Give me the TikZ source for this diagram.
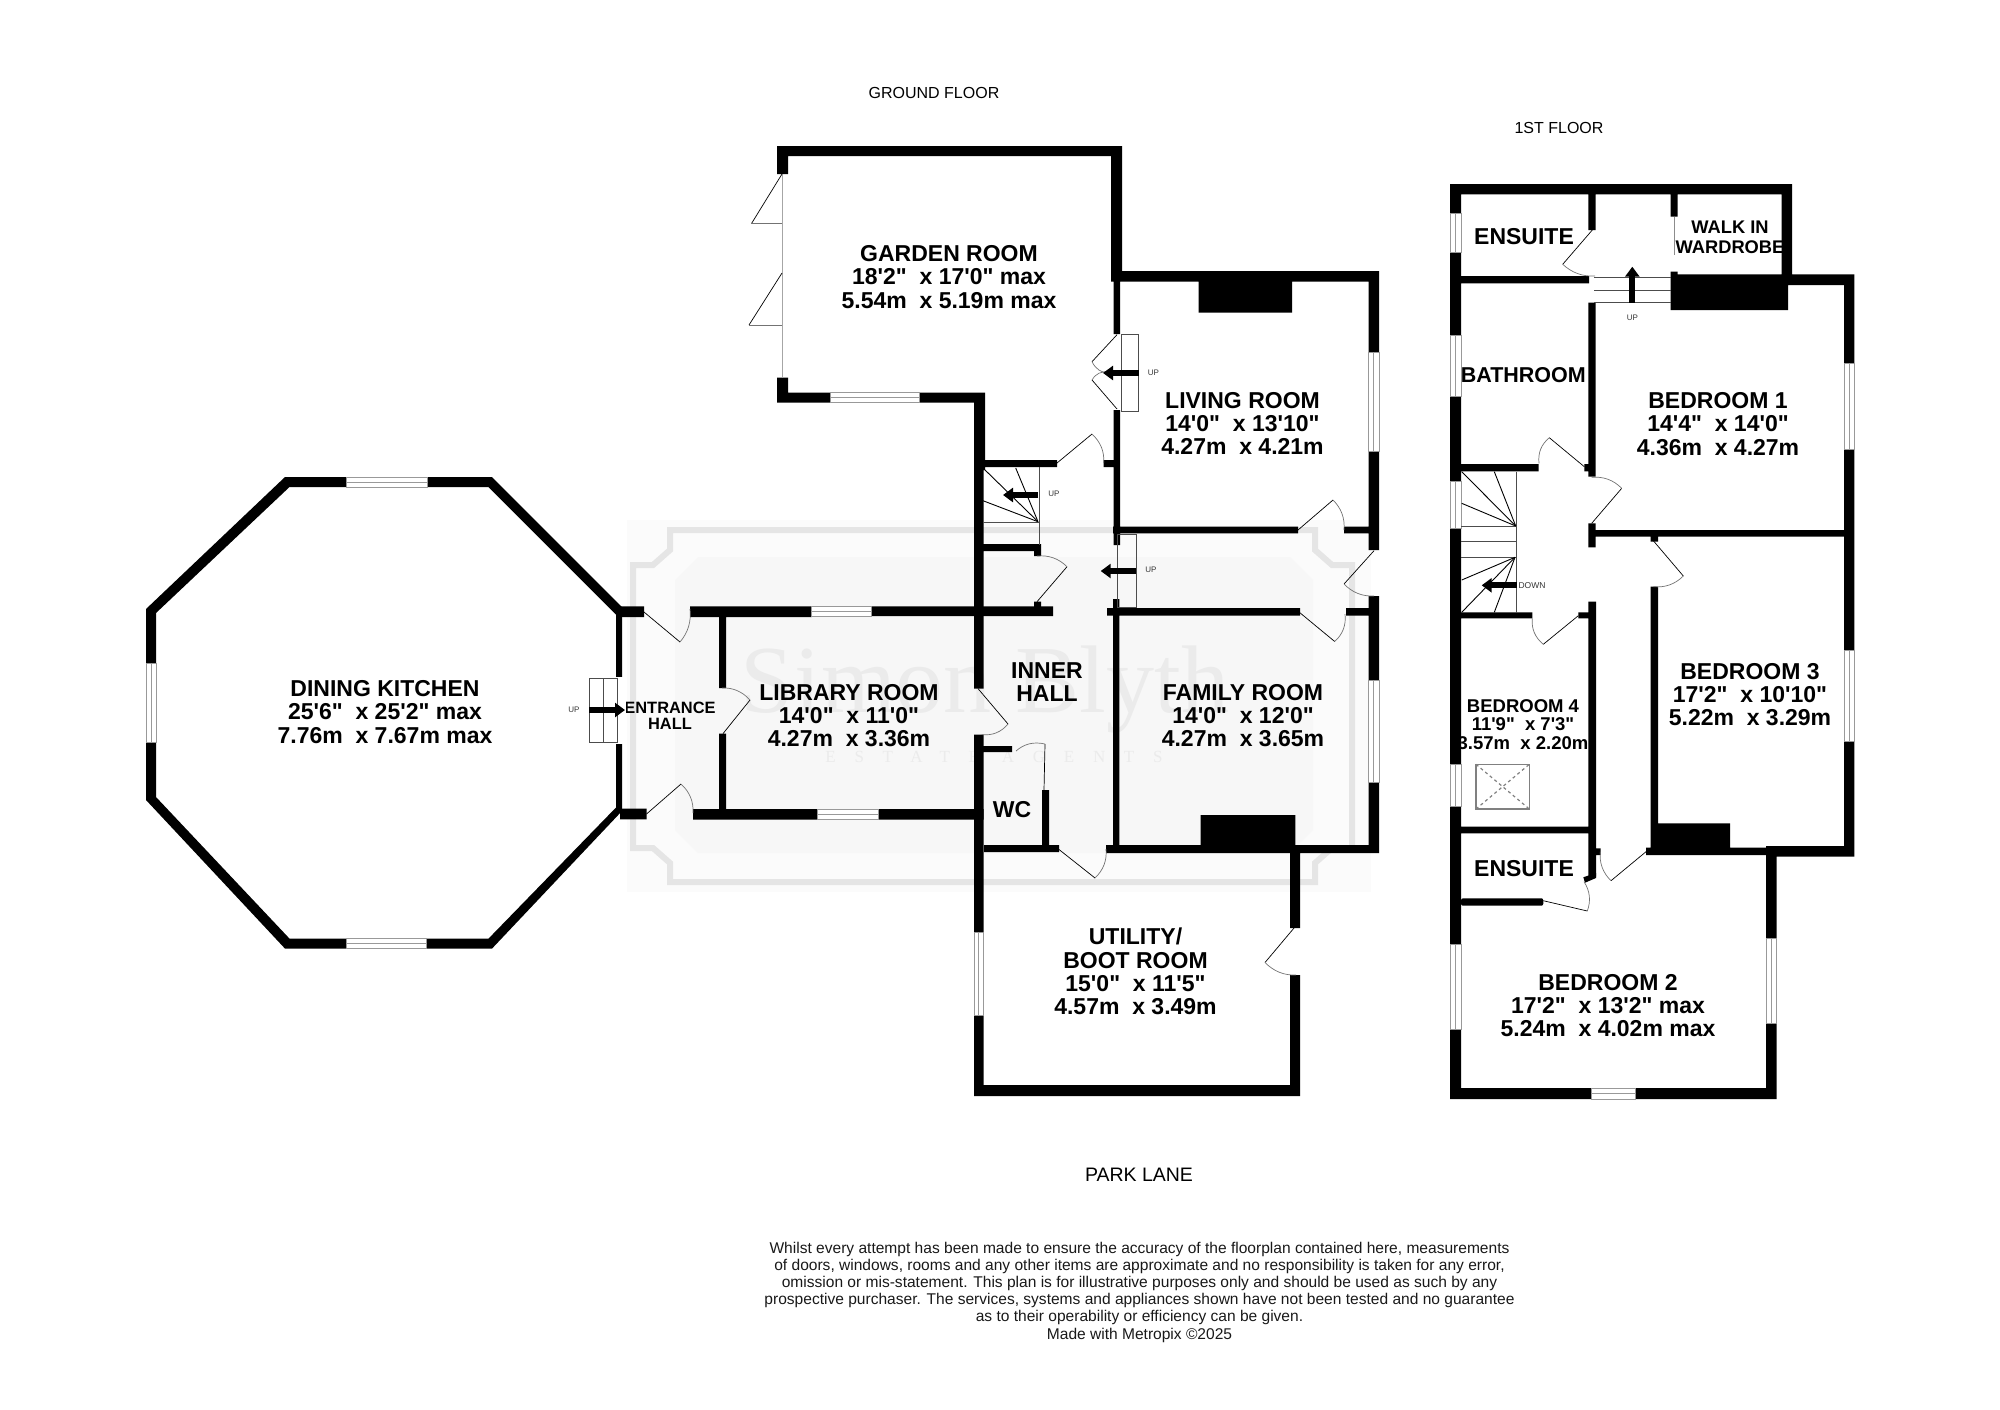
\documentclass[tikz,border=0pt]{standalone}
\usepackage{fontspec}
\usepackage{tikz}
\usetikzlibrary{arrows.meta,calc}
\newfontfamily\planfont{Liberation Sans}
\newfontfamily\markfont{Liberation Serif}
\begin{document}
\begin{tikzpicture}[x=1pt,y=-1pt,
  wall/.style={fill=black},
  pane/.style={draw=black!40,fill=white,line width=.8pt},
  leaf/.style={draw=black,line width=.7pt},
  swing/.style={draw=black!55,line width=.7pt},
  tread/.style={draw=black!70,line width=.8pt},
  winder/.style={draw=black,line width=.9pt},
  stairarrow/.style={line width=6pt,-{Triangle[length=10pt,width=14pt]}},
  room/.style={inner sep=0,align=center,font=\planfont\bfseries\fontsize{23}{23.4}\selectfont},
  smallroom/.style={inner sep=0,align=center,font=\planfont\bfseries\fontsize{16.4}{15.7}\selectfont},
  updown/.style={inner sep=0,font=\planfont\fontsize{8}{8}\selectfont,text=black!80},
  title/.style={inner sep=0,font=\planfont\fontsize{16}{16}\selectfont},
  small print/.style={inner sep=0,align=center,text=black!90,font=\planfont\fontsize{15.55}{17.2}\selectfont}]
\useasboundingbox (0,0) rectangle (2000,1409);
\def\hpane(#1,#2,#3,#4){
	\path[pane] (#1,#2) rectangle (#3,#4);
	\draw[pane] (#1,{(#2+#4)/2}) -- (#3,{(#2+#4)/2});
}
\def\vpane(#1,#2,#3,#4){
	\path[pane] (#1,#2) rectangle (#3,#4);
	\draw[pane] ({(#1+#3)/2},#2) -- ({(#1+#3)/2},#4);
}
\def\door(#1,#2)(#3,#4)(#5,#6){
	\draw[leaf] (#1,#2) -- (#3,#4);
	\draw[swing] (#3,#4) .. controls ($.724*(#3,#4)+.391*(#5,#6)-.115*(#1,#2)$) and ($.391*(#3,#4)+.724*(#5,#6)-.115*(#1,#2)$) .. (#5,#6);
}

% WATERMARK
\fill[black!1.5] (627,520) rectangle (1371,892);
\fill[black!3] (698,557) -- (1290,557) -- (1313,580) -- (1313,830) -- (1290,853) -- (698,853) -- (675,830) -- (675,580) -- cycle;
\draw[black!10,line width=6pt] (633,565) -- (653,565) -- (670,550) -- (670,530) -- (1315,530) -- (1315,550) -- (1332,565) -- (1352,565) -- (1352,848) -- (1332,848) -- (1315,863) -- (1315,882) -- (670,882) -- (670,863) -- (653,848) -- (633,848) -- cycle;
\node[text=black!8,inner sep=0,font=\markfont\fontsize{96}{96}\selectfont] (markname) at (985,690) {Simon Blyth};
\node[text=black!8,inner sep=0,font=\markfont\fontsize{17}{17}\selectfont\addfontfeature{LetterSpace=110}] (marktrade) at (994,757) {ESTATE AGENTS};

% TITLES
\node[title] (groundtitle) at (934,93) {GROUND FLOOR};
\node[title] (firsttitle) at (1559,127.5) {1ST FLOOR};
\node[title,font=\planfont\fontsize{19.5}{19.5}\selectfont] (lane) at (1139,1175) {PARK LANE};
\node[small print] (disclaimer) at (1139.5,1292) {Whilst every attempt has been made to ensure the accuracy of the floorplan contained here, measurements\\of doors, windows, rooms and any other items are approximate and no responsibility is taken for any error,\\omission or mis-statement. This plan is for illustrative purposes only and should be used as such by any\\prospective purchaser. The services, systems and appliances shown have not been tested and no guarantee\\as to their operability or efficiency can be given.\\Made with Metropix ©2025};

% ROOM LABELS
\node[room] (dining) at (385,712) {DINING KITCHEN\\25'6"~~x 25'2" max\\7.76m~~x 7.67m max};
\node[smallroom] (entrance) at (670,716) {ENTRANCE\\HALL};
\node[room] (garden) at (949,277) {GARDEN ROOM\\18'2"~~x 17'0" max\\5.54m~~x 5.19m max};
\node[room] (living) at (1242.5,423.5) {LIVING ROOM\\14'0"~~x 13'10"\\4.27m~~x 4.21m};
\node[room] (library) at (849,715.5) {LIBRARY ROOM\\14'0"~~x 11'0"\\4.27m~~x 3.36m};
\node[room] (inner) at (1047,682) {INNER\\HALL};
\node[room] (family) at (1243,715.5) {FAMILY ROOM\\14'0"~~x 12'0"\\4.27m~~x 3.65m};
\node[room] (wc) at (1012,810) {WC};
\node[room] (utility) at (1135.5,971.5) {UTILITY/\\BOOT ROOM\\15'0"~~x 11'5"\\4.57m~~x 3.49m};
\node[room] (suiteone) at (1524,236.7) {ENSUITE};
\node[room,font=\planfont\bfseries\fontsize{18.3}{20}\selectfont] (wardrobe) at (1730,237.5) {WALK IN\\WARDROBE};
\node[room,font=\planfont\bfseries\fontsize{21.5}{21.5}\selectfont] (bath) at (1523.3,375.5) {BATHROOM};
\node[room] (bedone) at (1718,424) {BEDROOM 1\\14'4"~~x 14'0"\\4.36m~~x 4.27m};
\node[room] (bedthree) at (1750,694.5) {BEDROOM 3\\17'2"~~x 10'10"\\5.22m~~x 3.29m};
\node[room,font=\planfont\bfseries\fontsize{18.5}{18.4}\selectfont] (bedfour) at (1523,724.3) {BEDROOM 4\\11'9"~~x 7'3"\\3.57m~~x 2.20m};
\node[room] (suitetwo) at (1524,868.5) {ENSUITE};
\node[room] (bedtwo) at (1608,1005.5) {BEDROOM 2\\17'2"~~x 13'2" max\\5.24m~~x 4.02m max};

% GROUND FLOOR WALLS
\fill[wall,even odd rule] (285,477) -- (492,477) -- (622,607) -- (622,811) -- (492,948.6) -- (285,948.6) -- (146,800) -- (146,609) -- cycle
	(289.5,487) -- (488.5,487) -- (616,614.6) -- (616,807.5) -- (488.5,938.6) -- (289.5,938.6) -- (156,797) -- (156,613) -- cycle;
\fill[white] (612,677) rectangle (626,744);
\fill[wall] (620,606.4) rectangle (644,617) (690,606.4) rectangle (811.7,617) (871.4,606.4) rectangle (1053,616)
	(620,808.6) rectangle (646.5,819.3) (693,809) rectangle (817,819.6) (878,809) rectangle (983.7,819.6)
	(719,617) rectangle (726,688) (719,733.6) rectangle (726,810);
\fill[wall] (777,146) rectangle (1122,156) (777,146) rectangle (788,174) (777,377.7) rectangle (788,402.7)
	(777,392.7) rectangle (830,402.7) (919,392.7) rectangle (985,402.7) (974,392.7) rectangle (985,470)
	(974,470) rectangle (983.7,688.6) (974,734.6) rectangle (983.7,932) (974,1015) rectangle (983.7,1096)
	(1111,146) rectangle (1122,281.7) (1111,271) rectangle (1379,281.7) (1113.5,281) rectangle (1120,334)
	(1113.5,410) rectangle (1120,545) (1113,599) rectangle (1119.4,853)
	(1368.5,271) rectangle (1379,352.7) (1368.5,451) rectangle (1379,550) (1368.5,596) rectangle (1379,680) (1368.5,782.5) rectangle (1379,853)
	(1198.7,281.7) rectangle (1292,312.7) (1200.5,815) rectangle (1295.4,845)
	(985,460) rectangle (1057,467) (1103.7,460) rectangle (1113.5,467)
	(1113,526.7) rectangle (1298,533.3) (1344,526.7) rectangle (1369,533.3)
	(983,544) rectangle (1041,551) (1034,544) rectangle (1041,556) (1034,601.7) rectangle (1041,612)
	(1107,608) rectangle (1300,615.7) (1346,608) rectangle (1369,615.7)
	(1106,845) rectangle (1379,853) (984,845) rectangle (1059,852)
	(974,746) rectangle (1012,752) (1042,790) rectangle (1049,846)
	(1290,852) rectangle (1300,928) (1290,975) rectangle (1300,1096) (974,1085) rectangle (1300,1096);

% 1ST FLOOR WALLS
\fill[wall] (1450,184) rectangle (1792,194.3) (1450,184) rectangle (1461,1099) (1450,1088) rectangle (1591.7,1099) (1635,1088) rectangle (1776.7,1099)
	(1588.3,194) rectangle (1595.7,230) (1670.7,194) rectangle (1677.7,216.7) (1670.7,271.7) rectangle (1677.7,285)
	(1781.7,184) rectangle (1792,276) (1461,276) rectangle (1589,283.3)
	(1670.7,274.3) rectangle (1854.3,285) (1670.7,285) rectangle (1788,310)
	(1844,274.3) rectangle (1854.3,856.7)
	(1588.3,302.7) rectangle (1595.7,476.7) (1461,464) rectangle (1538.7,471.3) (1584.3,464) rectangle (1590,471.3)
	(1588.3,523.3) rectangle (1595.7,547.3) (1595,530) rectangle (1844,536.7) (1650.7,536.7) rectangle (1658,541.7)
	(1650.7,586.7) rectangle (1658,855)
	(1461,612.3) rectangle (1532.3,618.3) (1578.3,612.3) rectangle (1590,618.3) (1588.3,601.7) rectangle (1596,876.7)
	(1461,826.7) rectangle (1588.3,833.3) (1595.7,848.3) rectangle (1600.7,855)
	(1646,847.7) rectangle (1766,855) (1766,846) rectangle (1854.3,856.7) (1658,823.3) rectangle (1730,847.7)
	(1766,846) rectangle (1776.7,938.3) (1766,1023.3) rectangle (1776.7,1099);
\fill[wall,rounded corners=2pt] (1461,898.3) rectangle (1543.3,905.7);
\fill[wall] (1583.3,877.3) -- (1596,873) -- (1596,878) -- (1585,882.7) -- cycle;

% WINDOWS
\hpane(346,477,427.5,487)
\hpane(346,938.6,426,948.6)
\vpane(146,663,156,742)
\hpane(830,392.7,919,402.7)
\vpane(1368.5,352.7,1379,451)
\hpane(811.7,606.4,871.4,616)
\hpane(817,809.3,878,819.6)
\vpane(1368.5,680,1379,782.5)
\vpane(974,932,983.7,1015)
\vpane(1450,213.3,1461,252.7)
\vpane(1450,335.7,1461,396.7)
\vpane(1450,481.7,1461,528.7)
\vpane(1450,764,1461,806.7)
\vpane(1450,944.3,1461,1029)
\vpane(1844,363.3,1854.3,449)
\vpane(1844,650,1854.3,741)
\vpane(1766,938.3,1776.7,1023.3)
\hpane(1591.7,1088,1635,1099)

% GROUND FLOOR DOORS
\door(644,612)(680,642)(690,609)
\door(646.5,814)(681,784)(693,813)
\door(723,733.6)(750,700)(722,688)
\door(978,688.6)(1008,724)(981.6,734.6)
\door(1037,601.7)(1067,566.7)(1037,556)
\door(1057,463)(1092,434)(1103.7,463)
\door(1117,334.7)(1092,361.7)(1109,373)
\door(1117,409)(1092,380)(1109,372)
\door(1298,530)(1333,500)(1344,530)
\door(1374,550.7)(1344,584)(1374,596)
\door(1299,612)(1334.7,641.5)(1345,614)
\door(1059,849.5)(1095,878)(1106,849)
\door(1044,790)(1045,744)(1016,751)
\door(1294,928)(1265,962.5)(1296,975)
% FRENCH DOORS
\draw[black!35,line width=.8pt] (782,174) -- (782,378);
\draw[leaf] (782,174) -- (751.4,223.7);
\draw[black!55,line width=.8pt] (751.4,223.7) -- (782,223.7);
\draw[leaf] (782,273) -- (749,325);
\draw[black!55,line width=.8pt] (749,325) -- (782,325);

% 1ST FLOOR DOORS
\door(1592.3,230)(1562.7,264.3)(1595,276)
\door(1584.3,466.7)(1549.3,437.7)(1539,463.3)
\door(1591.7,523.3)(1621.7,488.3)(1591.7,477.3)
\door(1653.3,540.7)(1683.3,576)(1653.3,586.7)
\door(1578.3,615.7)(1543.3,644.3)(1532.3,618.3)
\door(1646,851.7)(1611,880.7)(1600.3,851.7)
\door(1543.3,900.7)(1587.3,911)(1584,881.7)
\draw[black!45,line width=.9pt] (1674,216.7) -- (1674,255);

% GROUND FLOOR STAIRS
\draw[tread] (589,678) rectangle (617.5,742);
\draw[tread] (603,678) -- (603,742);
\draw[stairarrow] (589,710) -- (625,710);
\node[updown] (upa) at (574,710) {UP};
\draw[tread] (1121.4,334.7) rectangle (1138.7,411.7);
\draw[stairarrow] (1138.7,373) -- (1103,373);
\node[updown] (upb) at (1153.5,373) {UP};
\draw[tread] (1039,467) -- (1039,545);
\draw[tread] (983,522.7) -- (1039,522.7);
\draw[winder] (1038,521.7) -- (983,468);
\draw[winder] (1038,521.7) -- (1015.7,468);
\draw[winder] (1038,521.7) -- (983,500.7);
\draw[stairarrow] (1038,495) -- (1003,495);
\node[updown] (upc) at (1054,494) {UP};
\draw[tread] (1117,534) rectangle (1136,607);
\draw[stairarrow] (1136,571) -- (1100.7,571);
\node[updown] (upd) at (1151,570) {UP};

% 1ST FLOOR STAIRS
\draw[tread] (1594,277.3) -- (1670.7,277.3);
\draw[tread] (1594,290) -- (1670.7,290);
\draw[tread] (1594,302.7) -- (1670.7,302.7);
\draw[stairarrow] (1632.3,302.7) -- (1632.3,266.7);
\node[updown] (upe) at (1632.3,317.3) {UP};
\draw[tread] (1516.7,471.7) -- (1516.7,613.3);
\draw[tread] (1461,526.7) -- (1516.7,526.7);
\draw[tread] (1461,541.7) -- (1516.7,541.7);
\draw[tread] (1461,557.3) -- (1516.7,557.3);
\draw[winder] (1515.7,526) -- (1461.7,471.7);
\draw[winder] (1515.7,526) -- (1494.3,471.7);
\draw[winder] (1515.7,526) -- (1461.7,503.3);
\draw[winder] (1515,557.3) -- (1461.7,580);
\draw[winder] (1515,557.3) -- (1461.7,612.3);
\draw[winder] (1515,557.3) -- (1494.3,612.3);
\draw[stairarrow] (1516.7,585.3) -- (1481.7,585.3);
\node[updown,font=\planfont\fontsize{8.5}{8.5}\selectfont] (downa) at (1532,585.3) {DOWN};

% SKYLIGHT
\draw[black!50,line width=1.4pt] (1476,764.3) rectangle (1529.3,809);
\draw[black!50,line width=1.2pt,dashed] (1476,764.3) -- (1529.3,809);
\draw[black!50,line width=1.2pt,dashed] (1476,809) -- (1529.3,764.3);
\end{tikzpicture}
\end{document}
